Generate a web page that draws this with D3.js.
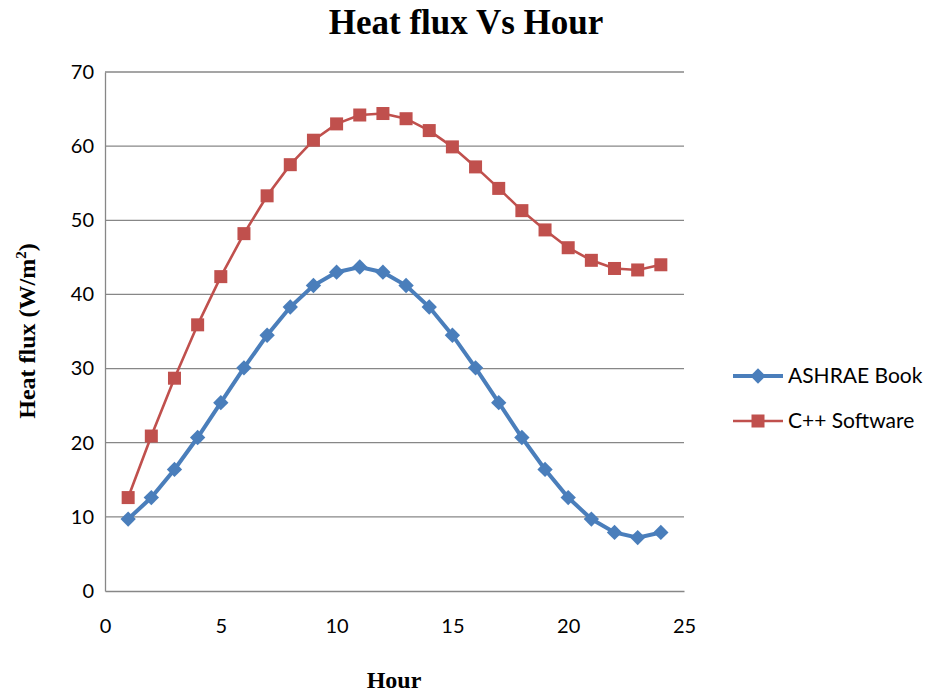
<!DOCTYPE html>
<html><head><meta charset="utf-8">
<script src="https://cdn.jsdelivr.net/npm/d3@7"></script>
<style>body{margin:0;background:#fff}</style>
</head><body>
<svg id="c" width="930" height="693"></svg>
<script>
const hours = d3.range(1, 25);
const ashrae = [9.7,12.6,16.4,20.7,25.4,30.1,34.5,38.3,41.2,43.0,43.7,43.0,41.2,38.3,34.5,30.1,25.4,20.7,16.4,12.6,9.7,7.9,7.2,7.9];
const cpp = [12.6,20.9,28.7,35.9,42.4,48.2,53.3,57.5,60.8,63.0,64.2,64.4,63.7,62.1,59.9,57.2,54.3,51.3,48.7,46.3,44.6,43.5,43.3,44.0];
const xTicks = [0,5,10,15,20,25];
const yTicks = [0,10,20,30,40,50,60,70];
const seriesNames = ["ASHRAE Book","C++ Software"];

const svg = d3.select("#c");
const L=105,R=684,T=72,B=591;
const x = d3.scaleLinear().domain([0,25]).range([L,R]);
const y = d3.scaleLinear().domain([0,70]).range([B,T]);
const sans = "Lato, 'Open Sans', 'Liberation Sans', sans-serif";
const serif = "'Liberation Serif','Times New Roman',serif";

// gridlines
svg.append("g").selectAll("line").data(yTicks.filter(d=>d>0)).join("line")
  .attr("x1",L).attr("x2",R).attr("y1",d=>y(d)).attr("y2",d=>y(d))
  .attr("stroke","#878787").attr("stroke-width",1.3);

// axes
const ya = svg.append("g").attr("transform",`translate(${L},0)`)
  .call(d3.axisLeft(y).tickValues(yTicks).tickSize(0).tickPadding(11));
const xa = svg.append("g").attr("transform",`translate(0,${B})`)
  .call(d3.axisBottom(x).tickValues(xTicks).tickSize(0).tickPadding(28));
[ya,xa].forEach(a=>{
  a.select(".domain").attr("stroke","#878787").attr("stroke-width",1.3);
  a.selectAll("text").attr("font-family",sans).attr("font-size",20).attr("fill","#000");
});

// lines
const line = d3.line().x((d,i)=>x(hours[i])).y(d=>y(d));
svg.append("path").datum(cpp).attr("d",line).attr("fill","none")
  .attr("stroke","#C0504D").attr("stroke-width",2.6);
svg.append("path").datum(ashrae).attr("d",line).attr("fill","none")
  .attr("stroke","#4A7EBB").attr("stroke-width",4);

svg.append("g").selectAll("rect").data(cpp).join("rect")
  .attr("x",(d,i)=>x(hours[i])-6.5).attr("y",d=>y(d)-6.5)
  .attr("width",13).attr("height",13).attr("fill","#C0504D");
const dia = d3.symbol().type(d3.symbolDiamond2).size(150);
svg.append("g").selectAll("path").data(ashrae).join("path")
  .attr("d",dia).attr("transform",(d,i)=>`translate(${x(hours[i])},${y(d)})`)
  .attr("fill","#4A7EBB");

// title
svg.append("text").attr("x",466).attr("y",34).attr("text-anchor","middle")
  .attr("font-family",serif).attr("font-weight","bold").attr("font-size",35).text("Heat flux Vs Hour");
svg.append("text").attr("x",394).attr("y",688).attr("text-anchor","middle")
  .attr("font-family",serif).attr("font-weight","bold").attr("font-size",24).text("Hour");
const yt = svg.append("text").attr("transform","translate(35,331) rotate(-90)").attr("text-anchor","middle")
  .attr("font-family",serif).attr("font-weight","bold").attr("font-size",24);
yt.append("tspan").text("Heat flux (W/m");
yt.append("tspan").attr("font-size",15).attr("dy",-9).text("2");
yt.append("tspan").attr("dy",9).text(")");

// legend
const lg = svg.append("g");
const ly = [376,421];
const cols = ["#4A7EBB","#C0504D"];
seriesNames.forEach((n,i)=>{
  lg.append("line").attr("x1",733).attr("x2",783).attr("y1",ly[i]).attr("y2",ly[i])
    .attr("stroke",cols[i]).attr("stroke-width",i===0?4:2.6);
  if(i===0) lg.append("path").attr("d",dia).attr("transform",`translate(758,${ly[i]})`).attr("fill",cols[i]);
  else lg.append("rect").attr("x",751.5).attr("y",ly[i]-6.5).attr("width",13).attr("height",13).attr("fill",cols[i]);
  lg.append("text").attr("x",788).attr("y",ly[i]+7).attr("font-family",sans).attr("font-size",21).text(n);
});
</script>
</body></html>
